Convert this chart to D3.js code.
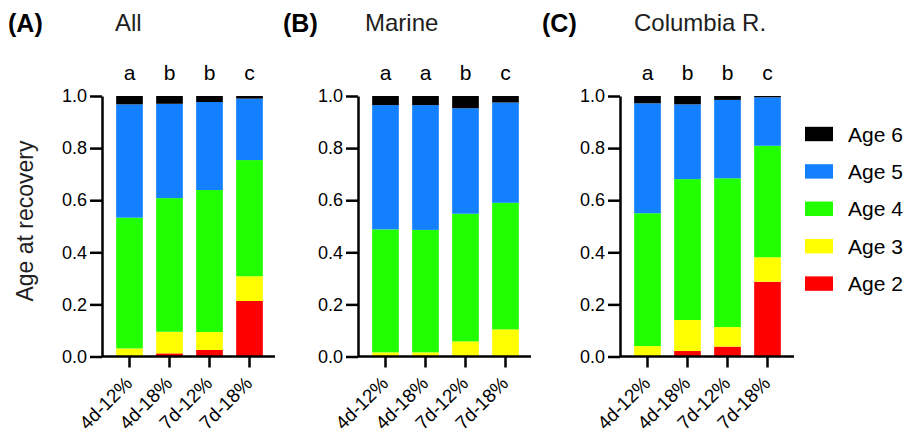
<!DOCTYPE html>
<html><head><meta charset="utf-8">
<script src="https://cdn.jsdelivr.net/npm/d3@7"></script>
<style>
html,body{margin:0;padding:0;background:#fff;}
svg{display:block;font-family:"Liberation Sans",Arial,Helvetica,sans-serif;}
</style></head>
<body><svg id="chart" width="906" height="435"></svg>
<script>
// ---- data ----
const categories = ["4d-12%", "4d-18%", "7d-12%", "7d-18%"];
const ageKeys = ["Age 2", "Age 3", "Age 4", "Age 5", "Age 6"];
const panelTags = ["(A)", "(B)", "(C)"];
const panelTitles = ["All", "Marine", "Columbia R."];
const sigLetters = [["a","b","b","c"], ["a","a","b","c"], ["a","b","b","c"]];
const yTicks = [0, 0.2, 0.4, 0.6, 0.8, 1.0];
// proportions per bar: [Age 2, Age 3, Age 4, Age 5, Age 6]
const allValues = [
  [0.000, 0.031, 0.502, 0.435, 0.032],
  [0.012, 0.083, 0.513, 0.362, 0.030],
  [0.025, 0.069, 0.545, 0.338, 0.023],
  [0.213, 0.095, 0.446, 0.236, 0.010]
];
const marineValues = [
  [0.000, 0.016, 0.472, 0.477, 0.035],
  [0.000, 0.016, 0.470, 0.479, 0.035],
  [0.000, 0.058, 0.490, 0.405, 0.047],
  [0.000, 0.104, 0.486, 0.385, 0.025]
];
const columbiaValues = [
  [0.000, 0.040, 0.510, 0.422, 0.028],
  [0.021, 0.119, 0.541, 0.287, 0.032],
  [0.038, 0.075, 0.571, 0.301, 0.015],
  [0.287, 0.094, 0.428, 0.186, 0.005]
];
const panelValues = [allValues, marineValues, columbiaValues];
const ageColors = ["#ff0000", "#ffff00", "#22ff00", "#1380ff", "#000000"];

// ---- layout ----
const svg = d3.select("#chart");
const axisXs = [102, 358, 620];
const axisEnds = [275, 531, 794];
const yScale = d3.scaleLinear().domain([0, 1]).range([356.5, 96]);
const color = d3.scaleOrdinal().domain(ageKeys).range(ageColors);
const tagX = [8, 283, 542];
const titleX = [115, 365, 634];

panelValues.forEach((vals, p) => {
  const ax = axisXs[p];
  const g = svg.append("g");
  const x = d3.scaleBand().domain(categories).range([ax + 7.5, ax + 167.5])
    .paddingInner(1/3).paddingOuter(1/6);

  const rows = categories.map((c, i) => {
    const o = {cat: c};
    ageKeys.forEach((k, j) => o[k] = vals[i][j]);
    return o;
  });
  const series = d3.stack().keys(ageKeys)(rows);

  g.selectAll("g.series").data(series).join("g")
    .attr("fill", d => color(d.key))
    .selectAll("rect").data(d => d).join("rect")
    .attr("x", d => x(d.data.cat))
    .attr("width", x.bandwidth())
    .attr("y", d => yScale(d[1]))
    .attr("height", d => Math.max(0, yScale(d[0]) - yScale(d[1])));

  // y axis
  const yAx = g.append("g").attr("transform", `translate(${ax},0)`)
    .call(d3.axisLeft(yScale).tickValues(yTicks).tickFormat(d3.format(".1f"))
      .tickSize(12).tickSizeOuter(0).tickPadding(3));
  yAx.select(".domain").attr("stroke-width", 2.5);
  yAx.selectAll(".tick line").attr("stroke-width", 2.5);
  yAx.selectAll("text").attr("font-size", 18).attr("fill", "#000")
    .attr("font-family", "Liberation Sans, Arial, sans-serif");

  // x axis
  const xAx = g.append("g").attr("transform", `translate(0,${yScale(0)})`)
    .call(d3.axisBottom(x).tickSize(11).tickSizeOuter(0));
  xAx.select(".domain").remove();
  xAx.append("line").attr("x1", ax).attr("x2", axisEnds[p])
    .attr("stroke", "#000").attr("stroke-width", 2.5);
  xAx.selectAll(".tick line").attr("stroke-width", 2.5);
  xAx.selectAll("text")
    .attr("font-size", 19).attr("fill", "#000")
    .attr("font-family", "Liberation Sans, Arial, sans-serif")
    .attr("x", 0).attr("y", 0).attr("dy", 0)
    .attr("text-anchor", "end")
    .attr("transform", "translate(4,28) rotate(-45)");

  // significance letters
  g.selectAll("text.sig").data(sigLetters[p]).join("text")
    .attr("class", "sig")
    .attr("x", (d, i) => x(categories[i]) + x.bandwidth() / 2)
    .attr("y", 80)
    .attr("text-anchor", "middle")
    .attr("font-size", 21).attr("fill", "#000")
    .text(d => d);

  // panel tag & title
  svg.append("text").attr("x", tagX[p]).attr("y", 32)
    .attr("font-size", 25).attr("font-weight", "bold").attr("fill", "#000")
    .text(panelTags[p]);
  svg.append("text").attr("x", titleX[p]).attr("y", 31)
    .attr("font-size", 24).attr("fill", "#1e1e1e")
    .text(panelTitles[p]);
});

// y label
svg.append("text")
  .attr("transform", "translate(33,221) rotate(-90)")
  .attr("text-anchor", "middle")
  .attr("font-size", 23).attr("fill", "#1e1e1e")
  .text("Age at recovery");

// legend
const legendKeys = ageKeys.slice().reverse();
const legend = svg.append("g").attr("transform", "translate(805,134)");
const lg = legend.selectAll("g").data(legendKeys).join("g")
  .attr("transform", (d, i) => `translate(0,${i * 37.4})`);
lg.append("rect").attr("x", 0).attr("y", -7.2).attr("width", 28).attr("height", 14.4)
  .attr("fill", d => color(d));
lg.append("text").attr("x", 43).attr("y", 7.5)
  .attr("font-size", 21).attr("fill", "#000")
  .text(d => d);
</script></body></html>
